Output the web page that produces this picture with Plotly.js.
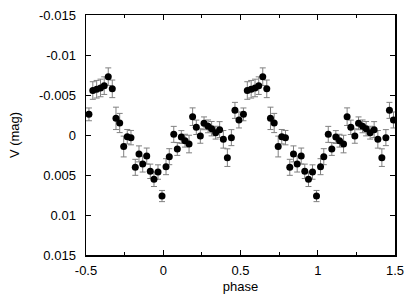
<!DOCTYPE html>
<html><head><meta charset="utf-8">
<script src="https://cdn.plot.ly/plotly-3.0.1.min.js"></script>
<style>html,body{margin:0;padding:0;background:#fff}#c{width:415px;height:304px}</style>
</head><body><div id="c"></div>
<script>
const phase = [-0.481,-0.456,-0.431,-0.406,-0.382,-0.356,-0.330,-0.306,-0.282,-0.256,-0.233,-0.209,-0.181,-0.157,-0.133,-0.107,-0.084,-0.060,-0.034,-0.008,0.018,0.039,0.068,0.091,0.117,0.141,0.167,0.190,0.214,0.240,0.264,0.290,0.313,0.339,0.365,0.389,0.415,0.441,0.464,0.490];
const vmag = [-0.00258,-0.00556,-0.00572,-0.00588,-0.00617,-0.00729,-0.00577,-0.00208,-0.00150,0.00144,0.00021,0.00033,0.00404,0.00236,0.00363,0.00263,0.00454,0.00554,0.00463,0.00763,0.00396,0.00271,-0.00008,0.00175,0.00025,0.00071,0.00113,-0.00229,-0.00096,0.00013,-0.00146,-0.00108,-0.00079,-0.00029,-0.00067,0.00054,0.00283,0.00033,-0.00308,-0.00188];
const verr = [0.0008,0.0011,0.0011,0.0011,0.0011,0.0011,0.0011,0.0014,0.0012,0.0013,0.0009,0.0009,0.0010,0.0010,0.0010,0.0010,0.0009,0.0009,0.0009,0.0007,0.0010,0.0010,0.0010,0.0008,0.0008,0.0008,0.0011,0.0011,0.0009,0.0009,0.0008,0.0008,0.0009,0.0008,0.0010,0.0011,0.0011,0.0010,0.0010,0.0010];
const yTicks = [-0.015,-0.01,-0.005,0,0.005,0.01,0.015];
const yLabels = ["-0.015","-0.01","-0.005","0","0.005","0.01","0.015"];
const xTicks = [-0.5,0,0.5,1,1.5];
const xLabels = ["-0.5","0","0.5","1","1.5"];

// phase-folded: plot two cycles
const px = phase.concat(phase.map(p => p + 1));
const py = vmag.concat(vmag);
const pe = verr.concat(verr);

const font = {family: "Liberation Sans, Arial, sans-serif", size: 13, color: "#000"};
Plotly.newPlot("c", [{
  x: px, y: py, type: "scatter", mode: "markers",
  marker: {color: "#000", size: 7},
  error_y: {type: "data", array: pe, visible: true, color: "#808080", thickness: 1, width: 3},
  showlegend: false
}], {
  width: 415, height: 304,
  margin: {l: 86, r: 20, t: 15, b: 49},
  paper_bgcolor: "#fff", plot_bgcolor: "#fff",
  font: font,
  xaxis: {
    range: [-0.5, 1.5], tickvals: xTicks, ticktext: xLabels,
    ticks: "inside", ticklen: 5, tickwidth: 1, tickcolor: "#000",
    minor: {dtick: 0.25, ticks: "inside", ticklen: 3, tickcolor: "#000"},
    showline: true, linecolor: "#000", linewidth: 1.5, mirror: "allticks",
    showgrid: false, zeroline: false, ticklabelstandoff: 3,
    title: {text: "phase", font: font, standoff: 5}
  },
  yaxis: {
    range: [0.015, -0.015], tickvals: yTicks, ticktext: yLabels,
    ticks: "inside", ticklen: 5, tickwidth: 1, tickcolor: "#000",
    showline: true, linecolor: "#000", linewidth: 1.5, mirror: "allticks",
    showgrid: false, zeroline: false, ticklabelstandoff: 6,
    title: {text: "V (mag)", font: font, standoff: 16}
  }
}, {staticPlot: true, displayModeBar: false});
</script></body></html>
